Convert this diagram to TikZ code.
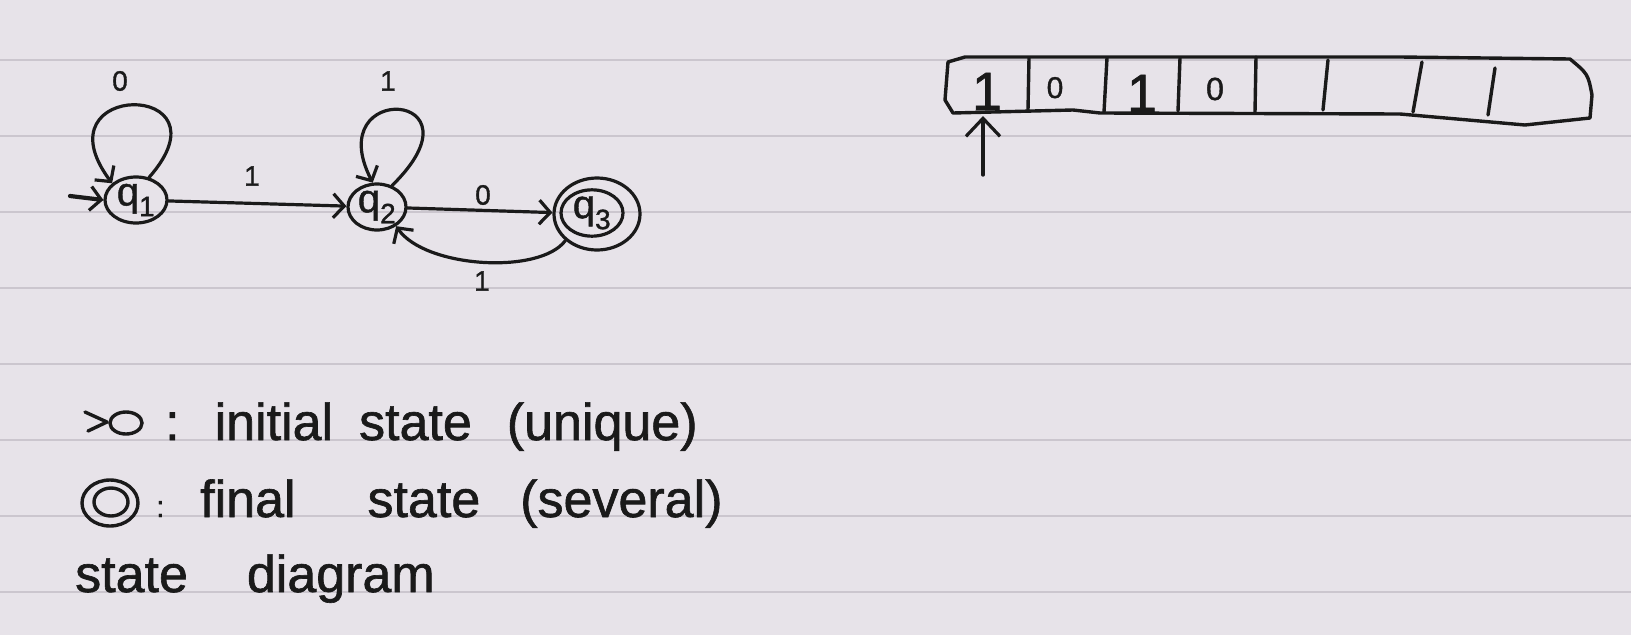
\documentclass[tikz,border=0pt]{standalone}
\usepackage{fontspec}
\setmainfont[FakeBold=1.2]{Liberation Sans}
\usetikzlibrary{arrows.meta,shapes.geometric}
\definecolor{paper}{HTML}{E7E3E9}
\definecolor{rulecol}{HTML}{CBC6CE}
\definecolor{ink}{HTML}{1A1A1A}
\begin{document}
\begin{tikzpicture}[x=1pt,y=-1pt,
  st/.style={ellipse, draw=ink, line width=3.2pt, inner sep=0pt, text=ink, font=\fontsize{40}{44}\selectfont},
  edge/.style={draw=ink, line width=3.2pt, line cap=round, -{Straight Barb[length=11pt,width=24pt,line width=3.2pt]}},
  lbl/.style={text=ink, inner sep=0pt, font=\fontsize{28}{30}\selectfont},
  body/.style={text=ink, inner sep=0pt, anchor=base west, font=\fontsize{52}{60}\selectfont},
  ink line/.style={draw=ink, line width=3.4pt, line cap=round, line join=round},
  ruled/.style={draw=rulecol, line width=2pt}]
\fill[paper] (0,0) rectangle (1631,635);
\useasboundingbox (0,0) rectangle (1631,635);
\foreach \yy in {59.5,135.5,211.5,287.5,363.5,439.5,515.5,591.5}
  \draw[ruled] (0,\yy) -- (1631,\yy);

% states
\node[st, minimum width=62pt, minimum height=46pt] (q1) at (136,200) {q\textsubscript{1}};
\node[st, minimum width=58pt, minimum height=46pt] (q2) at (377,207) {q\textsubscript{2}};
\node[st, minimum width=62pt, minimum height=46pt] (q3) at (592,213) {q\textsubscript{3}};
\node[st, minimum width=86pt, minimum height=72pt] (q3o) at (597,214) {};

% initial arrow
\coordinate (init) at (70,196);
\draw[edge, line width=4.2pt] (init) -- (q1.west);

% loops
\draw[edge] (q1.60) .. controls (235,80) and (35,80) .. (q1.145);
\draw[edge] (q2.55) .. controls (490,90) and (320,80) .. (q2.100);

% transitions
\draw[edge] (q1) -- (q2);
\draw[edge] (q2) -- (q3o);
\draw[edge] (q3o.220) .. controls (540,275) and (425,268) .. (q2.-45);

% labels
\node[lbl] (l0a) at (120,81) {0};
\node[lbl] (l1a) at (388,81) {1};
\node[lbl] (l1b) at (252,176) {1};
\node[lbl] (l0b) at (483,195) {0};
\node[lbl] (l1c) at (482,281) {1};

% tape
\draw[ink line] (948,62) -- (965,57) -- (1400,57) -- (1570,59)
  .. controls (1588,74) .. (1592,95) -- (1590,118) -- (1525,125) -- (1400,114)
  -- (1100,113) -- (1073,110) -- (953,113) -- (945,100) -- cycle;
\foreach \xa/\ya/\xb/\yb in {1029/58/1028/110, 1107/58/1104/112, 1180/58/1178/111,
  1256/57/1255/112, 1328/60/1323/110, 1422/62/1413/112, 1495/68/1488/115}
  \draw[ink line] (\xa,\ya) -- (\xb,\yb);
\node[text=ink, inner sep=0pt, anchor=base, font=\fontsize{54}{56}\selectfont] (c1) at (987,110) {1};
\node[text=ink, inner sep=0pt, anchor=base, font=\fontsize{30}{32}\selectfont] (c2) at (1055,98) {0};
\node[text=ink, inner sep=0pt, anchor=base, font=\fontsize{54}{56}\selectfont] (c3) at (1142,112) {1};
\node[text=ink, inner sep=0pt, anchor=base, font=\fontsize{32}{34}\selectfont] (c4) at (1215,100) {0};
\coordinate (headtip) at (983,116);
\coordinate (headtail) at (983,175);
\draw[ink line, -{Straight Barb[length=18pt,width=34pt,line width=3.2pt]}] (headtail) -- (headtip);

% legend
\draw[ink line] (85,412) -- (107,422) -- (88,431);
\node[ellipse, draw=ink, line width=3.4pt, minimum width=32pt, minimum height=22pt, inner sep=0pt] (legI) at (126,423) {};
\node[ellipse, draw=ink, line width=3.4pt, minimum width=56pt, minimum height=46pt, inner sep=0pt] (legF) at (110,503) {};
\node[ellipse, draw=ink, line width=3.4pt, minimum width=34pt, minimum height=28pt, inner sep=0pt] (legFi) at (111,502) {};

\node[body] (t1) at (165,440) {:\hspace{35pt}initial\hspace{26pt}state\hspace{35pt}(unique)};
\node[body, font=\fontsize{30}{32}\selectfont] (t2c) at (156,517) {:};
\node[body] (t2) at (200,517) {final\hspace{72pt}state\hspace{40pt}(several)};
\node[body] (t3) at (75,592) {state\hspace{59pt}diagram};
\end{tikzpicture}
\end{document}
